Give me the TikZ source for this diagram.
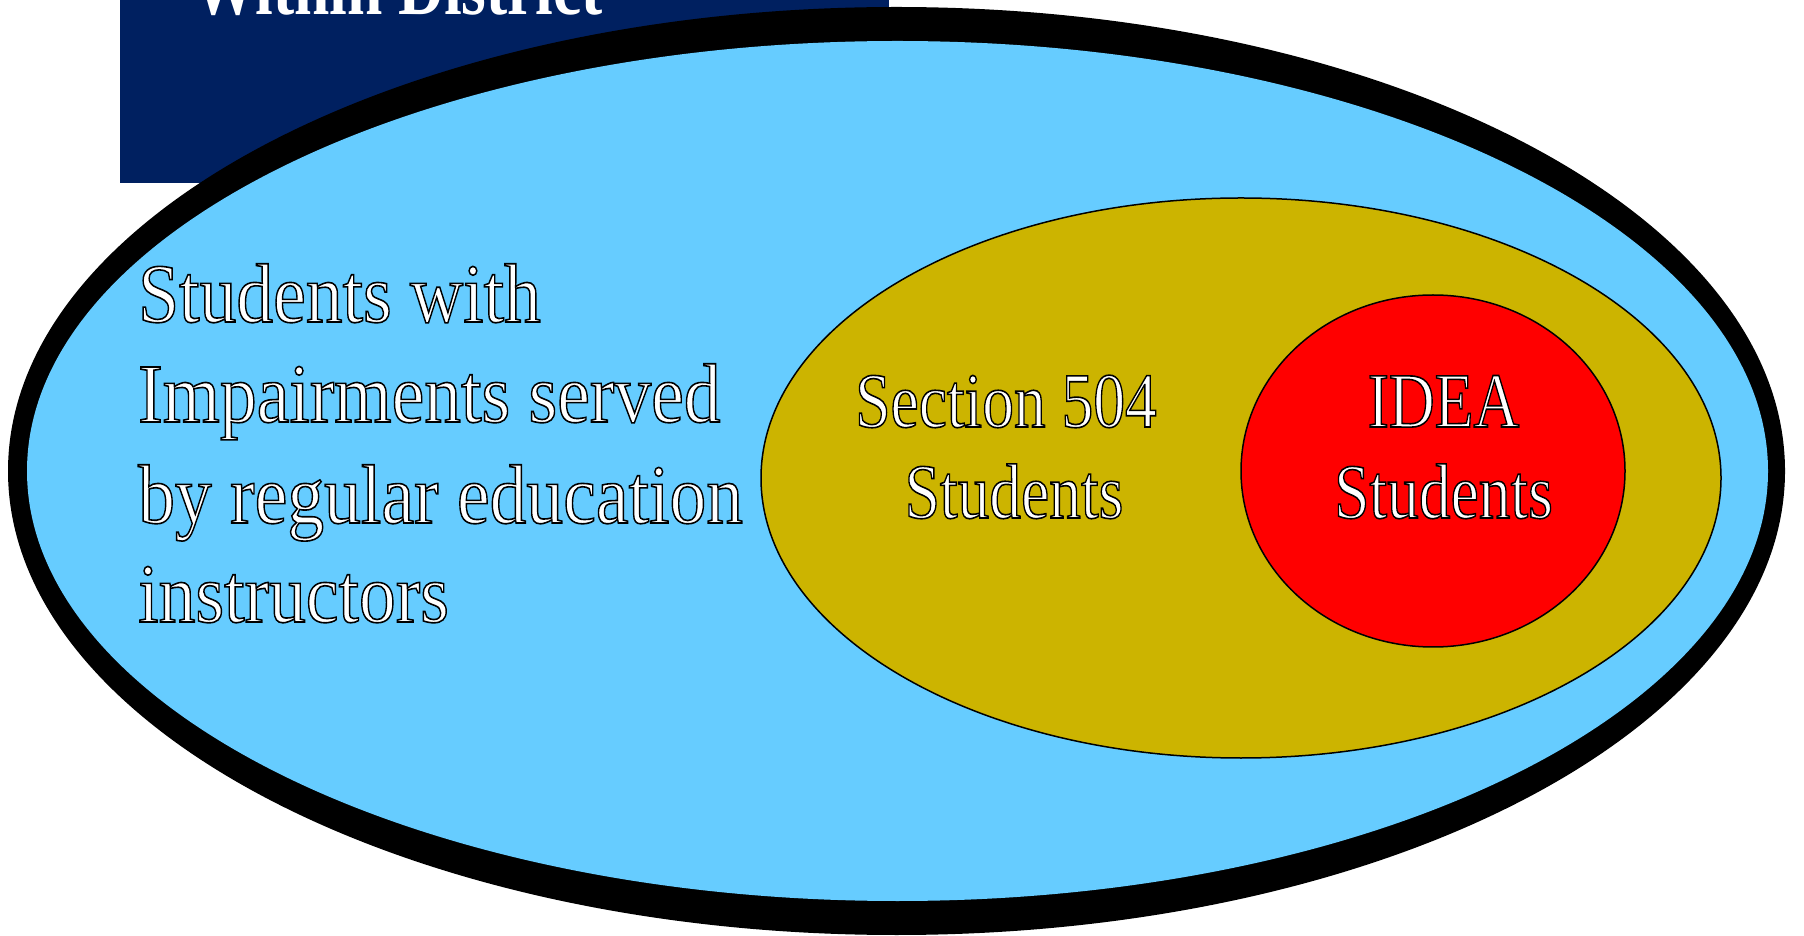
\documentclass[tikz,border=0pt]{standalone}
\usepackage{fontspec}
\setmainfont{Liberation Serif}
\usetikzlibrary{shapes.geometric}
\definecolor{navy}{HTML}{002060}
\definecolor{skyb}{HTML}{66CCFF}
\definecolor{olivey}{HTML}{CCB400}
\definecolor{redd}{HTML}{FF0000}
\newcommand\outltext[1]{{\color{white}\special{pdf:literal direct 2 Tr 1.6 w 0 0 0 RG}#1\special{pdf:literal direct 0 Tr}}}
\newcommand\lefttxt[1]{\scalebox{0.876}[1]{\outltext{#1}}}
\newcommand\righttxt[1]{\scalebox{0.814}[1]{\outltext{#1}}}
\tikzset{
  blob/.style={ellipse, inner sep=0pt, outer sep=0pt},
  bigtxt/.style={inner sep=0pt, font=\fontsize{84}{100}\selectfont},
  midtxt/.style={inner sep=0pt, font=\fontsize{78}{91}\selectfont}
}
\begin{document}
\begin{tikzpicture}[x=1pt,y=1pt]
\useasboundingbox (0,0) rectangle (1804,935);
\clip (0,0) rectangle (1804,935);
\node[fill=navy, inner sep=0pt, minimum width=769pt, minimum height=193pt] (title) at (504.5,848.5) {};
\node[inner sep=0pt, anchor=base, font=\fontsize{78}{91}\selectfont\bfseries, text=white] (titletxt) at (398,920) {\scalebox{0.814}[1]{Within District}};
\node[blob, fill=black, minimum width=1777pt, minimum height=928pt] (ring) at (896.5,464) {};
\node[blob, fill=skyb, minimum width=1741pt, minimum height=860pt] (all) at (897.5,464) {};
\node[blob, fill=olivey, draw=black, line width=1.5pt, minimum width=960pt, minimum height=560pt] (sec) at (1241,457) {};
\node[blob, fill=redd, draw=black, line width=1.5pt, minimum width=384pt, minimum height=352pt] (idea) at (1433,464) {};
\node[bigtxt, anchor=base west] (l1) at (138,613) {\lefttxt{Students with}};
\node[bigtxt, anchor=base west] (l2) at (138,513) {\lefttxt{Impairments served}};
\node[bigtxt, anchor=base west] (l3) at (138,412) {\lefttxt{by regular education}};
\node[bigtxt, anchor=base west] (l4) at (138,313) {\lefttxt{instructors}};
\node[midtxt, anchor=base] (s1) at (1006,508) {\righttxt{Section 504}};
\node[midtxt, anchor=base] (s2) at (1014,417) {\righttxt{Students}};
\node[midtxt, anchor=base] (i1) at (1443.5,508) {\righttxt{IDEA}};
\node[midtxt, anchor=base] (i2) at (1443.5,417) {\righttxt{Students}};
\end{tikzpicture}
\end{document}
